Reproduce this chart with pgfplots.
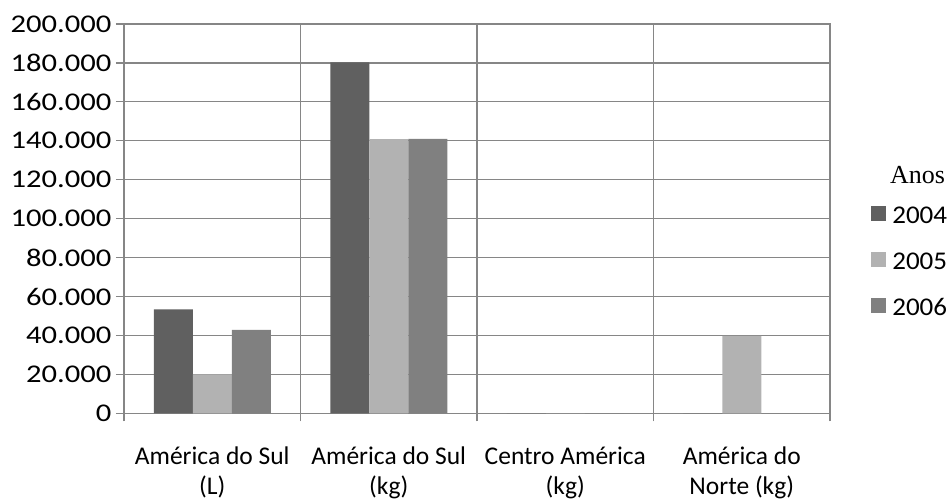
\documentclass[border=0pt]{standalone}
\usepackage{pgfplots}
\pgfplotsset{compat=1.18}
\usepackage{fontspec}
\setmainfont{Carlito}
\newfontfamily\numfont{Carlito}[FakeStretch=1.2]
\newfontfamily\legfont{Carlito}[FakeStretch=1.06]
\newfontfamily\timesfont{Liberation Serif}
\definecolor{c04}{HTML}{606060}
\definecolor{c05}{HTML}{B2B2B2}
\definecolor{c06}{HTML}{808080}
\definecolor{gridc}{HTML}{868686}
\pgfplotsset{sq/.style={legend image code/.code={\fill[##1] (0pt,-6pt) rectangle (15pt,9pt); \path (21pt,0pt);}}}
\begin{document}
\begin{tikzpicture}
\path[use as bounding box] (0,0) rectangle (951pt,501pt);
\begin{axis}[
 at={(124pt,87.7pt)}, anchor=south west,
 scale only axis, width=706pt, height=389.3pt,
 ybar=0pt, bar width=39pt,
 xmin=-0.5, xmax=3.5, ymin=0, ymax=200000,
 ytick distance=20000,
 xtick={-0.5,0.5,1.5,2.5,3.5}, xticklabels={},
 extra x ticks={0,1,2,3},
 extra x tick labels={América do Sul\\(L), América do Sul\\(kg), Centro América\\(kg), América do\\Norte (kg)},
 extra x tick style={major tick length=0pt, grid=none, tick label style={align=center, anchor=north, yshift=-30pt, font=\fontsize{25.5}{30}\selectfont}},
 xmajorgrids, ymajorgrids,
 grid style={gridc, line width=1.2pt},
 axis line style={gridc, line width=1.2pt},
 tick style={gridc, line width=1.2pt},
 tick align=outside, major tick length=8pt,
 xtick pos=bottom, ytick pos=left,
 scaled y ticks=false,
 /pgf/number format/fixed, /pgf/number format/precision=0,
 /pgf/number format/1000 sep={.}, /pgf/number format/assume math mode=true,
 yticklabel style={font=\numfont\fontsize{25.5}{30}\selectfont, xshift=-1pt},
 tick label style={text=black},
 legend style={at={(rel axis cs:1.0585,0.5333)}, anchor=north west, draw=none, fill=none,
   inner sep=0pt, outer sep=0pt, row sep=28.5pt,
   nodes={inner sep=0pt, font=\legfont\fontsize{25.5}{30}\selectfont, text height=17pt, text depth=0pt}},
 legend cell align=left,
]
\addplot[fill=c04, draw=none, sq] coordinates {(0,53400) (1,180300) (2,0) (3,0)};
\addplot[fill=c05, draw=none, sq] coordinates {(0,20000) (1,140800) (2,0) (3,39800)};
\addplot[fill=c06, draw=none, sq] coordinates {(0,42800) (1,141000) (2,0) (3,0)};
\legend{2004,2005,2006}
\end{axis}
\node[font=\timesfont\fontsize{26}{30}\selectfont] at (917.5pt,326pt) {Anos};
\end{tikzpicture}
\end{document}
